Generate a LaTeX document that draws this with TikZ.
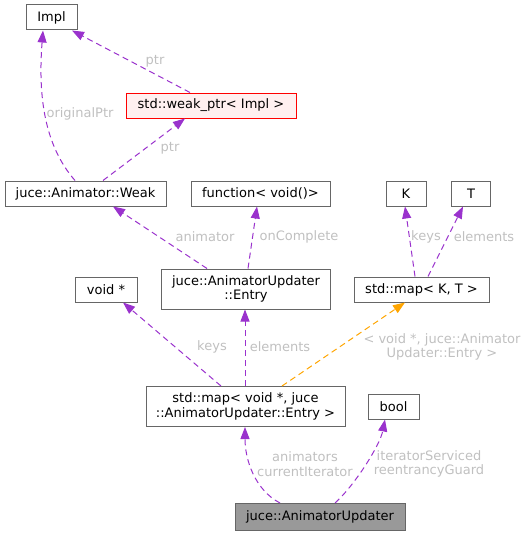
\documentclass[tikz,border=0pt]{standalone}
\usepackage{fontspec}
\setmainfont{DejaVu Sans}
\usetikzlibrary{arrows.meta}
\definecolor{edgepurple}{HTML}{9A32CD}
\definecolor{edgeorange}{HTML}{FFA500}
\definecolor{lblgray}{HTML}{C0C0C0}
\definecolor{boxgray}{HTML}{666666}
\definecolor{redfill}{HTML}{FFF0F0}
\definecolor{aufill}{HTML}{999999}
\tikzset{
  box/.style={draw=boxgray, line width=1pt, fill=white, inner sep=0pt, align=center, font=\fontsize{13}{14.5}\selectfont},
  rel/.style={draw=edgepurple, line width=1pt, dash pattern=on 6pt off 4pt, -{Triangle[length=12pt,width=9pt]}},
  relorange/.style={rel, draw=edgeorange},
  lbl/.style={text=lblgray, inner sep=0pt, align=center, font=\fontsize{13}{14.5}\selectfont}
}
\begin{document}
\begin{tikzpicture}[x=1pt,y=-1pt]
\useasboundingbox (0,0) rectangle (526,535);
% nodes
\node[box, minimum width=51pt, minimum height=25pt] (impl) at (51.5,17.5) {Impl};
\node[box, draw=red, fill=redfill, minimum width=170pt, minimum height=25pt] (wp) at (211,105.5) {std::weak\_ptr< Impl >};
\node[box, minimum width=161pt, minimum height=25pt] (wk) at (85.5,193.5) {juce::Animator::Weak};
\node[box, minimum width=139pt, minimum height=25pt] (fn) at (260.5,193.5) {function< void()>};
\node[box, minimum width=40pt, minimum height=25pt] (k) at (406,193.5) {K};
\node[box, minimum width=39pt, minimum height=25pt] (t) at (471,193.5) {T};
\node[box, minimum width=169pt, minimum height=40pt] (en) at (246,289) {juce::AnimatorUpdater\\::Entry};
\node[box, minimum width=62pt, minimum height=25pt] (vp) at (106,289.5) {void *};
\node[box, minimum width=135pt, minimum height=25pt] (mkt) at (421.5,289.5) {std::map< K, T >};
\node[box, minimum width=199pt, minimum height=40pt] (mv) at (245.5,406.5) {std::map< void *, juce\\::AnimatorUpdater::Entry >};
\node[box, minimum width=51pt, minimum height=25pt] (bl) at (393.5,406.5) {bool};
\node[box, fill=aufill, minimum width=170pt, minimum height=27pt] (au) at (320,517) {juce::AnimatorUpdater};
% edges
\draw[rel] ([xshift=-21pt]wp.north) -- ([xshift=20.5pt]impl.south);
\draw[rel] ([xshift=-10.5pt]wk.north) .. controls (44,145) and (38,95) .. ([xshift=-8.5pt]impl.south);
\draw[rel] ([xshift=17.5pt]wk.north) -- ([xshift=-26pt]wp.south);
\draw[rel] ([xshift=-39pt]en.north) -- ([xshift=27.5pt]wk.south);
\draw[rel] ([xshift=2pt]en.north) -- ([xshift=-3.5pt]fn.south);
\draw[rel] ([xshift=-6.5pt]mkt.north) -- ([xshift=-1pt]k.south);
\draw[rel] ([xshift=6.5pt]mkt.north) -- ([xshift=-8pt]t.south);
\draw[rel] ([xshift=-24.5pt]mv.north) -- ([xshift=17pt]vp.south);
\draw[rel] ([xshift=-0.5pt]mv.north) -- ([xshift=-1pt]en.south);
\draw[relorange] ([xshift=36.5pt]mv.north) -- ([xshift=-16.5pt]mkt.south);
\draw[rel] ([xshift=-40pt]au.north) .. controls (255,490) and (245,460) .. ([xshift=-0.5pt]mv.south);
\draw[rel] ([xshift=15pt]au.north) .. controls (355,485) and (380,445) .. ([xshift=-8.5pt]bl.south);
% labels
\node[lbl] (l1) at (155,61) {ptr};
\node[lbl] (l2) at (80,114) {originalPtr};
\node[lbl] (l3) at (170,148) {ptr};
\node[lbl] (l4) at (205,237) {animator};
\node[lbl] (l5) at (299,237) {onComplete};
\node[lbl] (l6) at (426,237) {keys};
\node[lbl] (l7) at (484,237) {elements};
\node[lbl] (l8) at (212,347) {keys};
\node[lbl] (l9) at (280,347) {elements};
\node[lbl] (l10) at (442,347) {< void *, juce::Animator\\Updater::Entry >};
\node[lbl] (l11) at (305,464) {animators\\currentIterator};
\node[lbl] (l12) at (429,464) {iteratorServiced\\reentrancyGuard};
\end{tikzpicture}
\end{document}
